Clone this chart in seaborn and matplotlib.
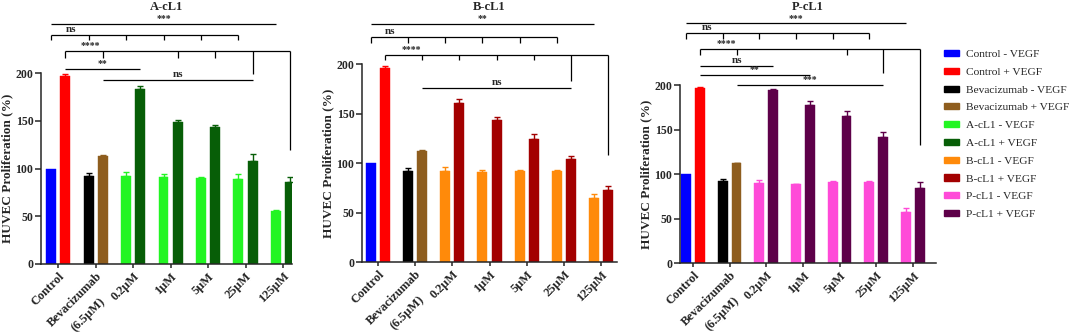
import matplotlib
matplotlib.use("Agg")
import matplotlib.pyplot as plt
import matplotlib.transforms as mtransforms
from matplotlib.patches import Patch
import seaborn as sns
import pandas as pd

# ---------------- data ----------------
groups = ["Control", "Bevacizumab\n(6.5μM)", "0.2μM", "1μM", "5μM", "25μM", "125μM"]
panel_titles = ["A-cL1", "B-cL1", "P-cL1"]

A_minus = [100, 92.7, 92.7, 91.6, 90.6, 88.8, 55.5]
A_minus_err = [0, 2.5, 3.5, 2.8, 0.8, 5.5, 1.2]
A_plus = [197, 113, 184, 149.3, 143.4, 108, 86.4]
A_plus_err = [2, 0.8, 2.5, 1.8, 2, 7.4, 5.2]

B_minus = [100, 92.6, 92, 91, 92.6, 92.3, 64.6]
B_minus_err = [0, 2.4, 4, 2, 0.6, 0.8, 4]
B_plus = [196.5, 112, 161.3, 143.8, 124.5, 104.7, 73]
B_plus_err = [2, 1.2, 4, 3.3, 5, 3, 4.4]

P_minus = [100, 92.3, 89.7, 88.6, 91.2, 91.6, 58]
P_minus_err = [0, 2.3, 3.3, 0.5, 1, 0.5, 3.7]
P_plus = [196.3, 112.1, 194, 177.6, 165.6, 141.3, 84.9]
P_plus_err = [1.8, 0.9, 1, 4.8, 4.9, 6.4, 5.9]

legend_labels = ["Control - VEGF", "Control + VEGF", "Bevacizumab - VEGF", "Bevacizumab + VEGF",
                 "A-cL1 - VEGF", "A-cL1 + VEGF", "B-cL1 - VEGF", "B-cL1 + VEGF",
                 "P-cL1 - VEGF", "P-cL1 + VEGF"]

# significance brackets: (y, label, label_x, [(group, side, drop_to_y), ...])
# side 0 = -VEGF bar, 1 = +VEGF bar ; drop_to_y None => no vertical tick
brackets_A = [
    (252, "***", None, [(0, 0, None), (6, 0, None)]),
    (240, "ns", 0.33, [(0, 0, 235), (1, 0, 235), (2, 0, 235), (3, 0, 235), (4, 0, 235), (5, 0, 235)]),
    (223, "****", 0.87, [(0, 1, 216), (1, 1, 216), (3, 1, 216), (4, 1, 216), (5, 1, 199), (6, 1, 120)]),
    (205, "**", None, [(0, 1, None), (2, 1, None)]),
    (193, "ns", None, [(1, 1, None), (5, 1, None)]),
]
brackets_B = [
    (240.7, "**", None, [(0, 0, None), (6, 0, None)]),
    (228, "ns", 0.32, [(0, 0, 222), (1, 0, 222), (2, 0, 222), (3, 0, 222), (4, 0, 222), (5, 0, 222)]),
    (209.4, "****", 0.9, [(0, 1, 204), (1, 1, 204), (2, 1, 204), (3, 1, 204), (4, 1, 204), (5, 1, 183), (6, 1, 108)]),
    (175.7, "ns", None, [(1, 1, None), (5, 1, None)]),
]
brackets_P = [
    (269, "***", None, [(0, 0, None), (6, 0, None)]),
    (258.7, "ns", 0.38, [(0, 0, 252), (1, 0, 252), (2, 0, 252), (3, 0, 252), (4, 0, 252), (5, 0, 252)]),
    (240, "****", 0.92, [(0, 1, 233.6), (1, 1, 233.6), (4, 1, 233.6), (5, 1, 213.8), (6, 1, 132.7)]),
    (221, "ns", None, [(0, 1, None), (2, 1, None)]),
    (211, "**", None, [(0, 1, None), (3, 1, None)]),
    (200, "***", None, [(1, 1, None), (5, 1, None)]),
]

# ---------------- style ----------------
C_BLUE, C_RED, C_BLACK, C_BROWN = "#0000FF", "#FF0000", "#000000", "#8E5D1E"
panel_colors = [("#22F522", "#075E07"), ("#FF8A0A", "#A30000"), ("#FF4AD8", "#5E0049")]

sns.set_style("ticks")
plt.rcParams["font.family"] = ["Liberation Serif", "DejaVu Serif"]
plt.rcParams["font.weight"] = "bold"
plt.rcParams["axes.linewidth"] = 1.1

W, H = 1072, 332
fig = plt.figure(figsize=(W / 100, H / 100), dpi=100)

# axes boxes in pixels: (left, right, bottom, top)
boxes = [(41, 292, 264, 73.3), (362, 617, 262.3, 64.3), (680, 936, 263.3, 85)]
xlims = [(-0.46, 6.24), (-0.43, 6.43), (-0.355, 6.63)]

datasets = [
    (A_minus, A_minus_err, A_plus, A_plus_err, brackets_A),
    (B_minus, B_minus_err, B_plus, B_plus_err, brackets_B),
    (P_minus, P_minus_err, P_plus, P_plus_err, brackets_P),
]

first_lines = [g.split("\n")[0] for g in groups]
second_lines = [g.split("\n")[1] if "\n" in g else "" for g in groups]

for i, (minus, minus_err, plus, plus_err, brackets) in enumerate(datasets):
    l, r, b, t = boxes[i]
    ax = fig.add_axes([l / W, 1 - b / H, (r - l) / W, (b - t) / H])
    df = pd.DataFrame({
        "group": groups * 2,
        "vegf": ["-"] * len(groups) + ["+"] * len(groups),
        "value": minus + plus,
    })
    sns.barplot(data=df, x="group", y="value", hue="vegf", order=groups, hue_order=["-", "+"],
                width=0.76, gap=0.3, errorbar=None, legend=False, ax=ax)
    light, dark = panel_colors[i]
    cols = [[C_BLUE, C_BLACK] + [light] * 5, [C_RED, C_BROWN] + [dark] * 5]
    errs = [minus_err, plus_err]
    centers = [[], []]
    bar_containers = list(ax.containers)
    for k, cont in enumerate(bar_containers):
        for j, p in enumerate(cont.patches):
            p.set_facecolor(cols[k][j])
            p.set_edgecolor(cols[k][j])
            p.set_linewidth(0.3)
            cx = p.get_x() + p.get_width() / 2
            centers[k].append(cx)
            if errs[k][j] > 0:
                ax.errorbar(cx, p.get_height(), yerr=[[0], [errs[k][j]]], fmt="none",
                            ecolor=cols[k][j], elinewidth=1.0, capsize=2.0, capthick=1.0)

    ax.set_xlim(*xlims[i])
    ax.set_ylim(0, 200)
    ax.set_yticks([0, 50, 100, 150, 200])
    ax.tick_params(axis="y", labelsize=8.5, width=1.1, length=4, pad=1.5)
    ax.tick_params(axis="x", labelsize=9, width=1.1, length=3, pad=1.5)
    ax.set_xticks(range(len(groups)))
    ax.set_xticklabels(first_lines, rotation=45, ha="right", rotation_mode="anchor",
                       fontweight="bold")
    # second line of two-line category labels, set just below the first line
    for j, s in enumerate(second_lines):
        if s:
            tr = mtransforms.blended_transform_factory(ax.transData, ax.transAxes) + \
                mtransforms.ScaledTranslation(3 / 100, -31 / 100, fig.dpi_scale_trans)
            ax.text(j, 0, s, transform=tr, rotation=45, ha="right", va="top",
                    rotation_mode="anchor", fontsize=9, fontweight="bold", clip_on=False)
    for lab in ax.get_yticklabels():
        lab.set_fontweight("bold")
    ax.set_xlabel("")
    ax.set_ylabel("HUVEC Proliferation (%)", fontsize=9.5, fontweight="bold", labelpad=1.5)
    sns.despine(ax=ax)

    # title
    fig.text(((l + r) / 2) / W, 1 - 6.5 / H, panel_titles[i], ha="center", va="center",
             fontsize=9, fontweight="bold")

    # brackets
    for y, label, lx, pts in brackets:
        xs = [centers[s][g] for g, s, _ in pts]
        ax.plot([min(xs), max(xs)], [y, y], color="black", lw=0.9, clip_on=False,
                solid_capstyle="butt")
        for (g, s, dy), xx in zip(pts, xs):
            if dy is not None:
                ax.plot([xx, xx], [y, dy], color="black", lw=0.9, clip_on=False,
                        solid_capstyle="butt")
        tx = lx if lx is not None else (min(xs) + max(xs)) / 2
        fs = 8 if label == "ns" else 7
        ax.text(tx, y + 1, label, ha="center", va="bottom", fontsize=fs,
                fontweight="bold", clip_on=False)

# legend
handles = [Patch(facecolor=c, edgecolor=c) for c in
           [C_BLUE, C_RED, C_BLACK, C_BROWN] + [c for pair in panel_colors for c in pair]]
fig.legend(handles, legend_labels, loc="upper left", bbox_to_anchor=(944 / W, 1 - 50 / H),
           frameon=False, prop={"family": "Liberation Serif", "weight": "normal", "size": 8.2},
           handlelength=1.3, handleheight=0.45, handletextpad=0.6, labelspacing=0.76,
           borderaxespad=0, borderpad=0)

fig.savefig("out.png", dpi=100)
